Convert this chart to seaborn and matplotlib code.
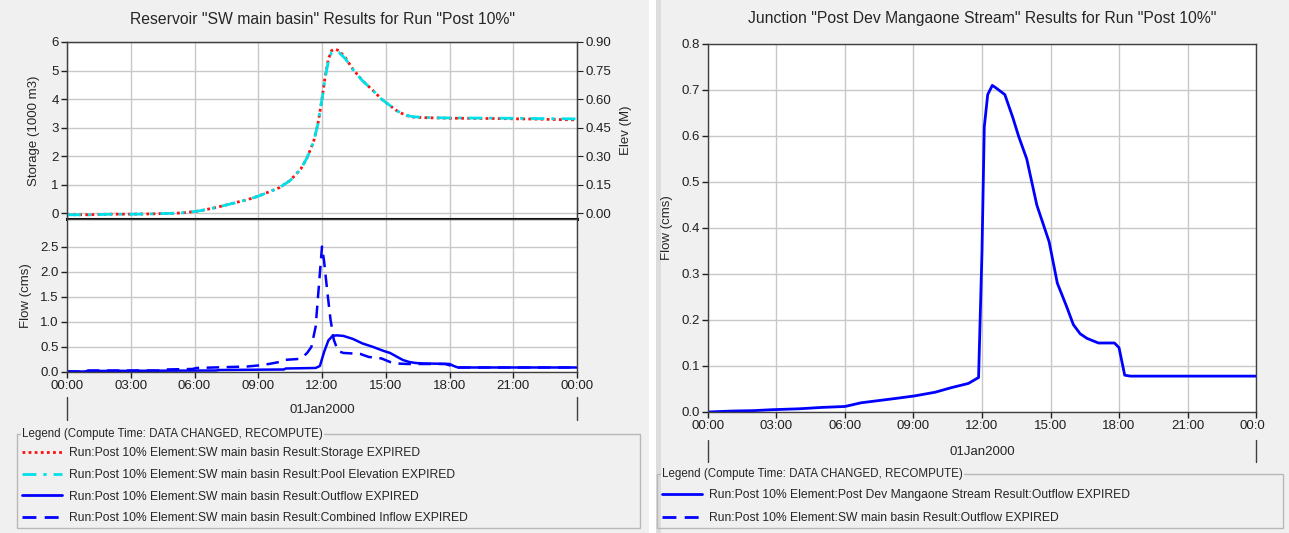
import seaborn as sns
import matplotlib.pyplot as plt
from matplotlib.patches import Rectangle
from matplotlib.lines import Line2D
from matplotlib.transforms import Bbox, TransformedBbox

# ---- data (hours since 01Jan2000 00:00) ----
stor_h = [0, 1, 2, 3, 4, 5, 5.5, 6.2, 7, 7.8, 8.5, 9, 9.5, 10, 10.5, 11, 11.3, 11.6, 11.8, 12.0,
          12.15, 12.3, 12.45, 12.6, 12.8, 13.1, 13.45, 13.9, 14.4, 14.8, 15.2, 15.6, 16.0, 16.3,
          16.8, 17.4, 18, 20, 22, 24]
stor_v = [-0.05, -0.05, -0.03, -0.03, -0.02, 0.0, 0.02, 0.08, 0.2, 0.35, 0.48, 0.6, 0.75, 0.9,
          1.15, 1.55, 1.95, 2.5, 3.1, 4.0, 4.8, 5.4, 5.7, 5.75, 5.7, 5.45, 5.05, 4.65, 4.3, 4.0,
          3.77, 3.55, 3.42, 3.37, 3.35, 3.34, 3.33, 3.32, 3.3, 3.27]
elev_v = [-0.008, -0.008, -0.005, -0.005, -0.003, 0.0, 0.003, 0.012, 0.03, 0.052, 0.072, 0.09,
          0.112, 0.135, 0.172, 0.232, 0.292, 0.375, 0.465, 0.6, 0.71, 0.8, 0.845, 0.85, 0.845,
          0.812, 0.756, 0.697, 0.645, 0.6, 0.566, 0.534, 0.514, 0.507, 0.504, 0.502, 0.501,
          0.5, 0.498, 0.496]

out_h = [0, 0.8, 1, 4, 7, 7.2, 10.2, 10.3, 11.7, 11.9, 12.1, 12.3, 12.5, 12.7, 13.0, 13.45,
         13.9, 14.4, 14.9, 15.2, 15.5, 15.8, 16.1, 16.4, 16.8, 17.5, 18.0, 18.2, 18.4, 20, 24]
out_v = [0.01, 0.01, 0.02, 0.025, 0.03, 0.04, 0.05, 0.07, 0.08, 0.12, 0.4, 0.63, 0.72, 0.73,
         0.72, 0.66, 0.57, 0.5, 0.42, 0.38, 0.31, 0.24, 0.2, 0.18, 0.17, 0.165, 0.16, 0.12,
         0.09, 0.09, 0.09]

in_h = [0, 0.8, 1, 4.4, 4.6, 5.9, 6.1, 8.5, 9.0, 9.5, 10.0, 10.2, 10.9, 11.1, 11.3, 11.5, 11.7,
        11.85, 12.0, 12.1, 12.25, 12.4, 12.55, 12.75, 13.0, 13.8, 14.2, 14.8, 15.2, 15.5, 16,
        17.8, 18.1, 18.4, 24]
in_v = [0.01, 0.01, 0.03, 0.03, 0.05, 0.06, 0.08, 0.11, 0.13, 0.16, 0.2, 0.24, 0.26, 0.3, 0.38,
        0.5, 0.9, 1.7, 2.5, 2.2, 1.6, 1.05, 0.65, 0.42, 0.38, 0.36, 0.3, 0.27, 0.2, 0.17, 0.16,
        0.16, 0.12, 0.09, 0.09]

jn_h = [0, 1, 2, 2.8, 4, 5, 6, 6.7, 7.5, 8.3, 9.05, 9.95, 10.66, 11.4, 11.85, 12.0, 12.1, 12.25,
        12.45, 12.6, 13.0, 13.35, 13.6, 13.96, 14.4, 14.94, 15.3, 15.7, 16.0, 16.3, 16.6, 17.1,
        17.8, 18.0, 18.25, 18.5, 24]
jn_v = [0.0, 0.002, 0.003, 0.005, 0.007, 0.01, 0.012, 0.02, 0.025, 0.03, 0.035, 0.043, 0.053,
        0.062, 0.075, 0.35, 0.62, 0.69, 0.71, 0.705, 0.69, 0.64, 0.6, 0.55, 0.45, 0.37, 0.28,
        0.23, 0.19, 0.17, 0.16, 0.15, 0.15, 0.14, 0.08, 0.078, 0.078]

hour_ticks = [0, 3, 6, 9, 12, 15, 18, 21, 24]
hour_labels = ['00:00', '03:00', '06:00', '09:00', '12:00', '15:00', '18:00', '21:00', '00:00']
date_label = '01Jan2000'

left_title = 'Reservoir "SW main basin" Results for Run "Post 10%"'
right_title = 'Junction "Post Dev Mangaone Stream" Results for Run "Post 10%"'
legend_title = 'Legend (Compute Time: DATA CHANGED, RECOMPUTE)'
left_names = ['Run:Post 10% Element:SW main basin Result:Storage EXPIRED',
              'Run:Post 10% Element:SW main basin Result:Pool Elevation EXPIRED',
              'Run:Post 10% Element:SW main basin Result:Outflow EXPIRED',
              'Run:Post 10% Element:SW main basin Result:Combined Inflow EXPIRED']
right_names = ['Run:Post 10% Element:Post Dev Mangaone Stream Result:Outflow EXPIRED',
               'Run:Post 10% Element:SW main basin Result:Outflow EXPIRED']

# ---- style ----
sns.set_style('whitegrid', {'grid.color': '#c8c8c8', 'axes.edgecolor': '#404040'})
plt.rcParams['font.family'] = ['Liberation Sans', 'DejaVu Sans']
plt.rcParams['font.size'] = 9.5
plt.rcParams['xtick.color'] = '#202020'
plt.rcParams['ytick.color'] = '#202020'

W, H = 1289, 533
fig = plt.figure(figsize=(W / 100, H / 100), dpi=100, facecolor='white')
BG = '#f0f0f0'
BLUE = '#0000ff'
TICK_FS = 9.5
LAB_FS = 9.5


def fx(px):
    return px / W


def fy(py):
    return 1 - py / H


fig.patches.append(Rectangle((0, 0), fx(649), 1, transform=fig.transFigure,
                             facecolor=BG, edgecolor='none', zorder=-10))
fig.patches.append(Rectangle((fx(656), 0), 1, 1, transform=fig.transFigure,
                             facecolor=BG, edgecolor='none', zorder=-10))
fig.patches.append(Rectangle((fx(656), 0), fx(5), 1, transform=fig.transFigure,
                             facecolor='#dcdcdc', edgecolor='none', zorder=-9))

ax_s = fig.add_axes([fx(67), fy(219), fx(577 - 67), (219 - 42) / H])
ax_f = fig.add_axes([fx(67), fy(372), fx(577 - 67), (372 - 219) / H])
ax_j = fig.add_axes([fx(708), fy(412), fx(1256 - 708), (412 - 44) / H])

ls_dot = (0, (1, 1.2))
ls_dashdot = (0, (5, 2.5, 1.2, 2.5))
ls_dash = (0, (5, 3))

# storage / elevation
sns.lineplot(x=stor_h, y=stor_v, ax=ax_s, color='#ff1010', linestyle=ls_dot, lw=2)
ax_e = ax_s.twinx()
sns.lineplot(x=stor_h, y=elev_v, ax=ax_e, color='#00e0e8', linestyle=ls_dashdot, lw=2)

# flows
sns.lineplot(x=out_h, y=out_v, ax=ax_f, color=BLUE, lw=1.8)
sns.lineplot(x=in_h, y=in_v, ax=ax_f, color=BLUE, linestyle=ls_dash, lw=1.8)
sns.lineplot(x=jn_h, y=jn_v, ax=ax_j, color=BLUE, lw=2)

for ax in (ax_s, ax_f, ax_j):
    ax.set_xlim(0, 24)
    ax.set_xticks(hour_ticks)
    ax.grid(True, color='#c8c8c8', lw=1)
    ax.tick_params(length=4, width=1, direction='out', labelsize=TICK_FS, pad=2,
                   left=True, bottom=True)
    for sp in ax.spines.values():
        sp.set_linewidth(1)

ax_s.set_ylim(-0.2, 6)
ax_s.set_yticks(range(0, 7))
ax_s.set_xticklabels([])
ax_s.tick_params(axis='x', length=0)
ax_s.spines['bottom'].set_linewidth(2.2)
ax_s.spines['bottom'].set_color('black')
ax_s.set_ylabel('Storage (1000 m3)', fontsize=LAB_FS, labelpad=8)

ax_e.set_ylim(-0.03, 0.9)
ax_e.set_yticks([0, 0.15, 0.3, 0.45, 0.6, 0.75, 0.9])
ax_e.set_yticklabels(['%.2f' % v for v in ax_e.get_yticks()])
ax_e.grid(False)
ax_e.tick_params(axis='y', length=4, direction='out', labelsize=TICK_FS, pad=2, right=True)
ax_e.set_ylabel('Elev (M)', fontsize=LAB_FS, labelpad=6)

ax_f.set_ylim(0, 3.05)
ax_f.set_yticks([0, 0.5, 1.0, 1.5, 2.0, 2.5])
ax_f.set_yticklabels(['%.1f' % v for v in ax_f.get_yticks()])
ax_f.set_xticklabels(hour_labels)
ax_f.set_ylabel('Flow (cms)', fontsize=LAB_FS, labelpad=6)

ax_j.set_ylim(0, 0.8)
ax_j.set_yticks([0, 0.1, 0.2, 0.3, 0.4, 0.5, 0.6, 0.7, 0.8])
ax_j.set_yticklabels(['%.1f' % v for v in ax_j.get_yticks()])
ax_j.set_xticklabels(hour_labels)
ax_j.set_ylabel('Flow (cms)', fontsize=LAB_FS, labelpad=6)

# date band under time axes
for ax, h_ax, top, bot, txt in ((ax_f, 153, 397, 420, 410), (ax_j, 368, 440, 462, 452)):
    base = 372 if ax is ax_f else 412
    for h in (0, 24):
        ax.axvline(h, ymin=(base - bot) / h_ax, ymax=(base - top) / h_ax,
                   color='#404040', lw=1, clip_on=False)
    ax.text(12, (base - txt) / h_ax, date_label, transform=ax.get_xaxis_transform(),
            ha='center', va='center', fontsize=TICK_FS)

ax_s.set_title(left_title, fontsize=11.3, pad=13)
ax_j.set_title(right_title, fontsize=11.3, pad=15)

# clip the last junction tick label at the panel edge
clip = TransformedBbox(Bbox([[0, 0], [1265 / W, 1]]), fig.transFigure)
lbl = ax_j.get_xticklabels()[-1]
lbl.set_clip_on(True)
lbl.set_clip_box(clip)


# legends (group boxes)
def group_box(x0, y0, x1, y1, handles, names, first_y, spacing):
    fig.patches.append(Rectangle((fx(x0), fy(y1)), fx(x1 - x0), (y1 - y0) / H,
                                 transform=fig.transFigure, facecolor='none',
                                 edgecolor='#b8b8b8', lw=1, zorder=1))
    fig.text(fx(x0 + 5), fy(y0), legend_title, fontsize=8.3, va='center', ha='left',
             bbox=dict(facecolor=BG, edgecolor='none', pad=1), zorder=2)
    fs = 8.7
    fs_px = fs * 100 / 72
    leg = fig.legend(handles, names, loc='upper left', frameon=False, fontsize=fs,
                     bbox_to_anchor=(fx(x0 + 5), fy(first_y - fs_px * 0.5)),
                     borderpad=0, borderaxespad=0, handlelength=3.3, handletextpad=0.6,
                     labelspacing=((spacing + 1.2) / fs_px) - 1.0)
    return leg


lh = [Line2D([], [], color='#ff1010', linestyle=ls_dot, lw=2),
      Line2D([], [], color='#00e0e8', linestyle=ls_dashdot, lw=2),
      Line2D([], [], color=BLUE, lw=2),
      Line2D([], [], color=BLUE, linestyle=ls_dash, lw=2)]
group_box(17, 434, 640, 528, lh, left_names, 453, 20.7)

rh = [Line2D([], [], color=BLUE, lw=2),
      Line2D([], [], color=BLUE, linestyle=ls_dash, lw=2)]
group_box(657, 474, 1283, 528, rh, right_names, 495, 22)

fig.savefig('out.png', dpi=100, facecolor=fig.get_facecolor())
